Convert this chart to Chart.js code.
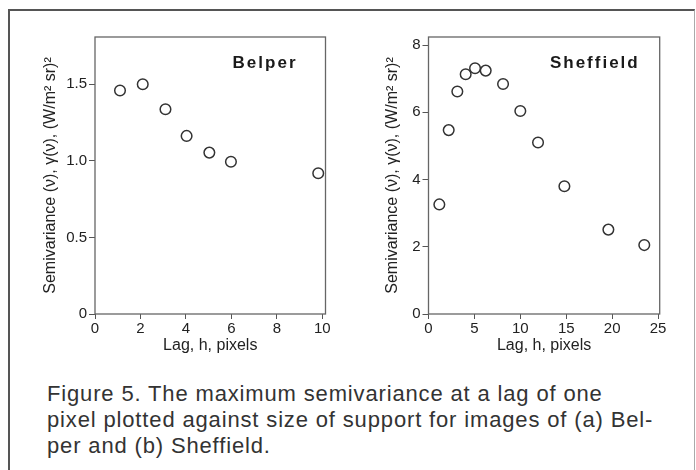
<!DOCTYPE html>
<html>
<head>
<meta charset="utf-8">
<script src="https://cdn.jsdelivr.net/npm/chart.js@4"></script>
<style>
  body { margin: 0; background: #fff; width: 696px; height: 470px; overflow: hidden; position: relative; }
  .frame { position: absolute; left: 8px; top: 9px; width: 684px; height: 470px;
           border-top: 2px solid #555; border-left: 2px solid #555; border-right: 1px solid #aaa; }
  .panel { position: absolute; top: 0; width: 348px; height: 360px; }
  #caption { position: absolute; left: 47px; top: 381px; font: 22px "Liberation Sans", Arial, sans-serif;
             letter-spacing: 0.85px; line-height: 26px; color: #333; white-space: nowrap; }
</style>
</head>
<body>
<div class="frame"></div>
<div class="panel" style="left:0"><canvas id="belper" width="348" height="360"></canvas></div>
<div class="panel" style="left:348px"><canvas id="sheffield" width="348" height="360"></canvas></div>
<div id="caption">Figure 5. The maximum semivariance at a lag of one<br>pixel plotted against size of support for images of (a) Bel-<br>per and (b) Sheffield.</div>
<script>
// Belper
const belperLag = [1.1, 2.1, 3.1, 4.03, 5.03, 5.98, 9.82];
const belperSemi = [1.46, 1.50, 1.337, 1.163, 1.054, 0.994, 0.919];
const belperXTicks = [0, 2, 4, 6, 8, 10];
const belperYTicks = [0, 0.5, 1.0, 1.5];

// Sheffield
const sheffLag = [1.18, 2.2, 3.14, 4.05, 5.07, 6.23, 8.12, 10.0, 11.93, 14.8, 19.59, 23.5];
const sheffSemi = [3.26, 5.47, 6.62, 7.13, 7.31, 7.24, 6.84, 6.04, 5.10, 3.80, 2.51, 2.05];
const sheffXTicks = [0, 5, 10, 15, 20, 25];
const sheffYTicks = [0, 2, 4, 6, 8];

const yTitle = 'Semivariance (\u03BD), \u03B3(\u03BD), (W/m\u00B2 sr)\u00B2';
const xTitle = 'Lag, h, pixels';

const boxPlugin = {
  id: 'box',
  afterDraw(chart, args, opts) {
    const {ctx, chartArea: a} = chart;
    ctx.save();
    ctx.strokeStyle = '#666';
    ctx.lineWidth = 1.3;
    ctx.strokeRect(a.left, a.top, a.right - a.left, a.bottom - a.top);
    ctx.fillStyle = '#1a1a1a';
    ctx.font = 'bold 17px "Liberation Sans", Arial, sans-serif';
    ctx.letterSpacing = '2px';
    ctx.textAlign = 'right';
    ctx.textBaseline = 'middle';
    ctx.fillText(opts.text, a.right - opts.inset, 63);
    ctx.restore();
  }
};

function makeChart(id, lag, semi, xTicks, yTicks, xMax, yMax, pad, yTitlePad, label, inset, yFmt) {
  return new Chart(document.getElementById(id), {
    type: 'scatter',
    data: {
      datasets: [{
        data: lag.map((x, i) => ({x: x, y: semi[i]})),
        pointStyle: 'circle',
        pointRadius: 5.3,
        pointBorderWidth: 1.5,
        pointBorderColor: '#333',
        pointBackgroundColor: 'rgba(255,255,255,0)'
      }]
    },
    options: {
      responsive: false,
      animation: false,
      events: [],
      layout: { padding: pad },
      plugins: {
        legend: { display: false },
        tooltip: { enabled: false },
        box: { text: label, inset: inset }
      },
      scales: {
        x: {
          type: 'linear', min: 0, max: xMax,
          afterFit: s => { s.height = 46; },
          afterBuildTicks: s => { s.ticks = xTicks.map(v => ({value: v})); },
          border: { display: false },
          grid: { drawOnChartArea: false, tickLength: 5, color: '#555' },
          ticks: { color: '#222', padding: 1, font: { family: '"Liberation Sans", Arial', size: 15 } },
          title: { display: true, text: xTitle, color: '#222', padding: { top: 0, bottom: 5 },
                   font: { family: '"Liberation Sans", Arial', size: 16 } }
        },
        y: {
          type: 'linear', min: 0, max: yMax,
          afterFit: s => { s.width = pad.left0; },
          afterBuildTicks: s => { s.ticks = yTicks.map(v => ({value: v})); },
          border: { display: false },
          grid: { drawOnChartArea: false, tickLength: 6, color: '#555' },
          ticks: { color: '#222', padding: 2, callback: yFmt,
                   font: { family: '"Liberation Sans", Arial', size: 15 } },
          title: { display: true, text: yTitle, color: '#222', padding: { top: yTitlePad, bottom: 0 },
                   font: { family: '"Liberation Sans", Arial', size: 16 } }
        }
      }
    },
    plugins: [boxPlugin]
  });
}

makeChart('belper', belperLag, belperSemi, belperXTicks, belperYTicks, 10.14, 1.809,
  { top: 37, right: 22.5, left: 0, bottom: 0, left0: 95 }, 41, 'Belper', 28,
  v => v === 0 ? '0' : v.toFixed(1));
makeChart('sheffield', sheffLag, sheffSemi, sheffXTicks, sheffYTicks, 25.18, 8.24,
  { top: 37, right: 36.3, left: 0, bottom: 0, left0: 80.5 }, 35, 'Sheffield', 20,
  v => String(v));
</script>
</body>
</html>
